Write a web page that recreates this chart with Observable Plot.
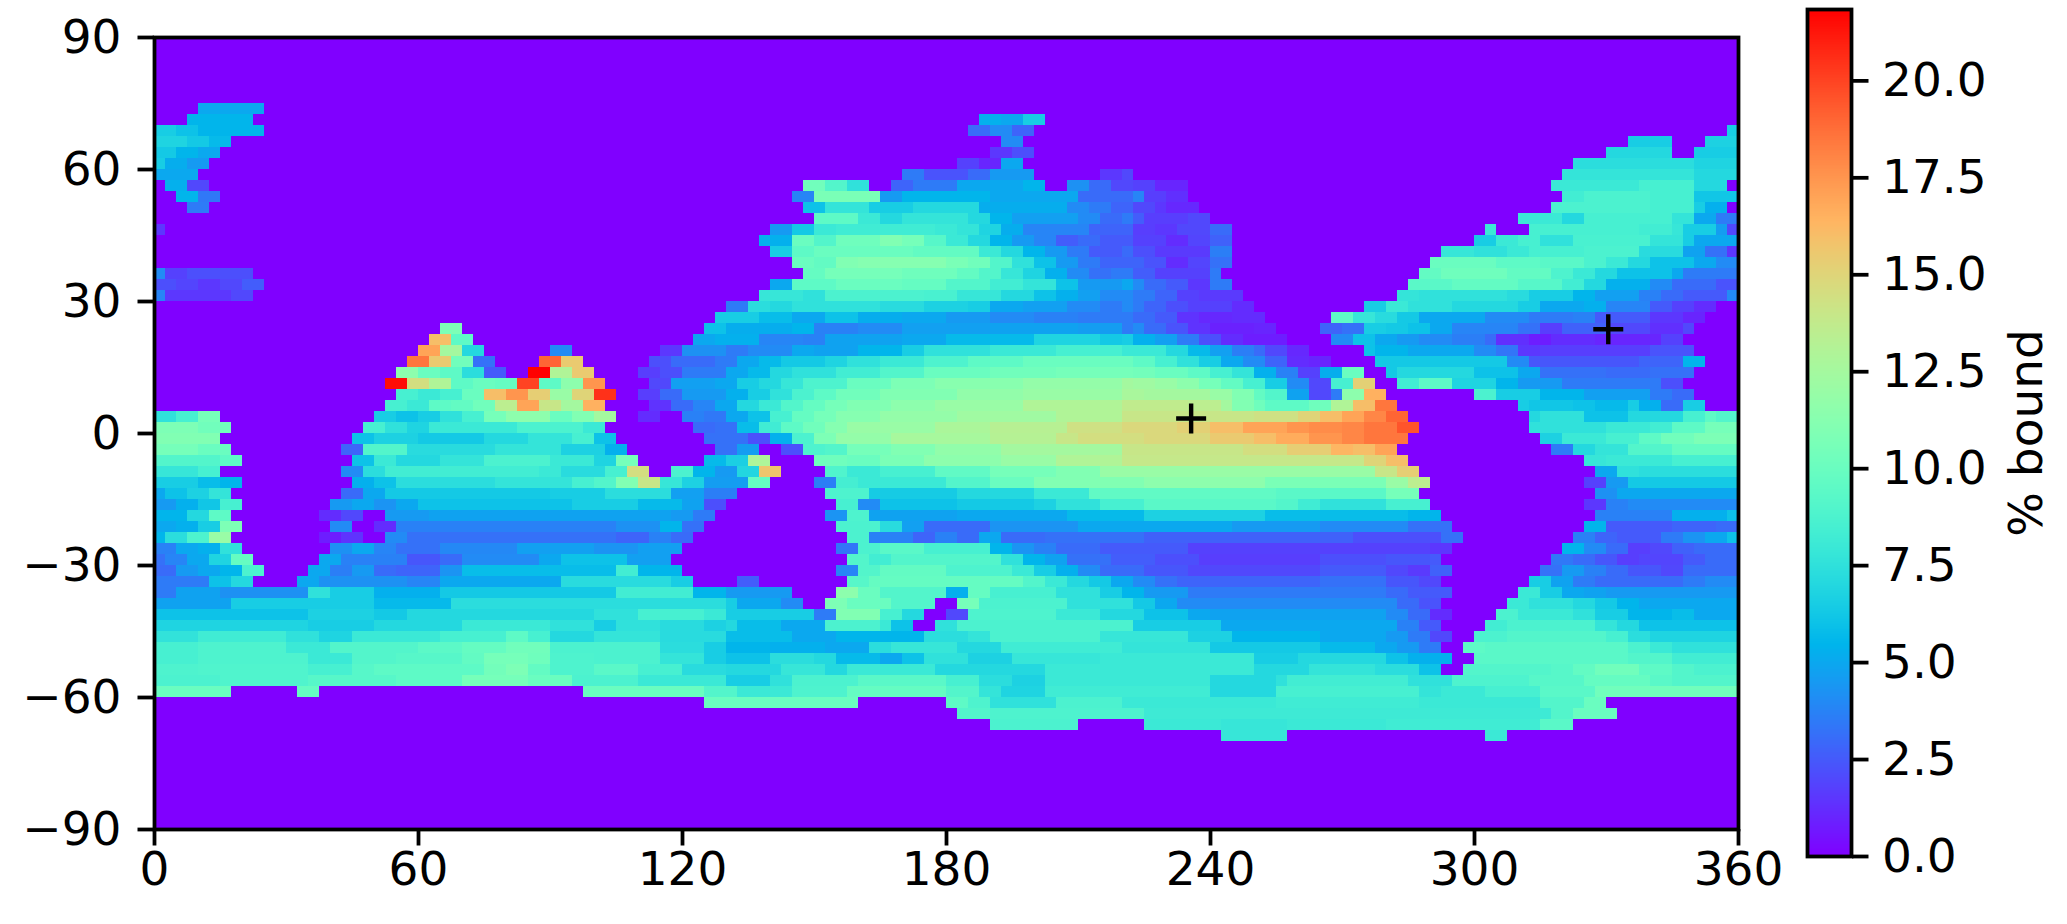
<!DOCTYPE html>
<html><head><meta charset="utf-8">
<script src="https://cdn.jsdelivr.net/npm/d3@7"></script>
<script src="https://cdn.jsdelivr.net/npm/@observablehq/plot@0.6"></script>
<style>
html,body{margin:0;padding:0;background:#fff}
#fig{position:relative;width:2067px;height:924px;overflow:hidden}
#fig svg{position:absolute;left:0;top:0;background:transparent}
</style></head><body><div id="fig"></div>
<script>
// Top latitude of each 2.5 degree band
const rowTops = [75,72.5,70,67.5,65,62.5,60,57.5,55,52.5,50,47.5,45,42.5,40,37.5,35,32.5,30,27.5,25,22.5,20,17.5,15,12.5,10,7.5,5,2.5,0,-2.5,-5,-7.5,-10,-12.5,-15,-17.5,-20,-22.5,-25,-27.5,-30,-32.5,-35,-37.5,-40,-42.5,-45,-47.5,-50,-52.5,-55,-57.5,-60,-62.5,-65,-67.5];
// Each band: longitude where a run starts, % bound of that run
const rowRuns = [
[10,5,25,0],
[7.5,5.5,22.5,0,187.5,5.3,192.5,5,197.5,6.5,202.5,0],
[0,6.5,5,6,10,5.5,25,0,185,3,190,4,195,2.8,200,0,357.5,6.5],
[0,6.8,7.5,6.3,12.5,5.7,17.5,0,192.5,4,197.5,0,335,6.5,345,0,352.5,6.7],
[0,6.3,5,5.5,10,5,15,0,190,1.5,195,2.2,200,0,330,7,345,0,350,6.5],
[0,6.5,2.5,5.2,7.5,4.5,12.5,0,182.5,1.8,187.5,1,192.5,5,197.5,0,322.5,7.3,350,6.8],
[0,5,10,0,170,3.5,175,2.3,185,3,190,4.5,200,0,215,1.5,220,2,222.5,0,320,7.7,350,7],
[2.5,5.3,7.5,2,12.5,0,147.5,10.3,152.5,9,157.5,7.5,162.5,0,167.5,2.8,172.5,3.5,182.5,5,197.5,5.5,202.5,0,207.5,4.2,212.5,3,217.5,2,222.5,1.8,227.5,1,235,0,317.5,8,337.5,8.5,350,7,357.5,0],
[5,5.5,10,3.4,15,0,145,3.8,150,10.7,165,4.5,170,5.5,190,5,210,3,222.5,3.8,225,1.7,230,1.3,235,0,320,8.3,325,8.7,340,8.5,350,6.2],
[7.5,3.5,12.5,0,147.5,6,152.5,7.7,162.5,6.5,172.5,7,187.5,5.2,207.5,4,212.5,3.5,217.5,2.8,222.5,2,227.5,1.5,230,1.1,237.5,0,317.5,8.7,340,8.5,350,6.5,352.5,5.3,357.5,0],
[150,9.5,160,8,165,7,170,7.7,185,7,190,5.5,195,4.7,210,4,215,3,220,3.5,222.5,2.6,225,1.7,235,2,240,0,310,8,320,7,325,8.5,345,7.7,350,5,355,3.5],
[0,1.5,2.5,0,140,4.5,145,6.3,150,8,155,8.2,177.5,8,182.5,7.7,187.5,6.8,192.5,5.2,197.5,3.8,212.5,2.8,222.5,1.7,227.5,1.5,232.5,2,240,3,245,0,302.5,8,305,0,312.5,8.5,337.5,8.3,345,7.8,347.5,6.5,355,4.6,357.5,2],
[137.5,5.3,145,10,150,9,155,10.2,165,11,170,10.5,175,9.2,180,8,185,7,190,5.5,195,4.5,200,3.8,205,2.6,210,3,215,2.5,222.5,1.8,230,1.2,235,1.9,240,2.7,245,0,300,6.5,305,8,310,8.5,315,7.5,322.5,8.6,340,7.7,347.5,6.5,350,5],
[140,6.5,145,9.5,150,10,172.5,9.7,187.5,8,192.5,7,197.5,5.5,202.5,4.5,207.5,3.5,212.5,2.5,220,3,222.5,2.2,227.5,1.6,240,3.6,245,0,292.5,7.8,300,7.5,307.5,8,312.5,8.5,325,8.7,337.5,7.2,347.5,4.8,352.5,3.2,357.5,1.5],
[145,10,150,9.7,155,11,160,11.2,180,10.7,185,10.3,190,9,195,7.5,200,6,205,4.5,210,3.5,215,2.8,225,2.3,230,1.2,235,1.9,240,3.2,245,0,290,10,305,9.5,315,9.3,325,8.7,330,8,335,7,340,6,350,5,355,4],
[0,4,2.5,1.8,7.5,2.2,22.5,0,147.5,9.8,152.5,10.5,170,10.2,182.5,9.7,187.5,9,192.5,7.8,197.5,6.8,202.5,5.3,207.5,4,212.5,3.2,217.5,3.5,222.5,2.6,227.5,1.8,240,3.5,242.5,0,287.5,9.7,292.5,10.2,307.5,9.7,317.5,8.8,322.5,8,327.5,7,332.5,6,345,5,347.5,3.5],
[0,2.2,5,1.9,10,1.5,15,2,20,2.6,25,0,140,5,145,9.5,155,10,170,9.8,180,9,190,8.3,197.5,7.7,205,6,210,4.5,220,5,222.5,4,225,3,230,2.5,235,1.5,240,3.5,245,0,285,9.3,295,9.7,310,9.2,320,8.3,325,7,330,5.3,340,4,345,3,355,2.3],
[0,3.8,2.5,1.5,17.5,2,22.5,0,137.5,7.8,147.5,7.5,152.5,8.7,175,8.6,182.5,7.8,192.5,7,200,6,205,5.3,210,4.7,215,4,222.5,3.5,227.5,2.8,232.5,1.8,237.5,1.6,247.5,0,282.5,7.7,287.5,7.5,307.5,7.2,312.5,6.5,322.5,5.5,327.5,4.7,337.5,3.7,342.5,3,347.5,2.5,357.5,4],
[130,3.5,135,7.3,140,7,145,7.5,165,7.2,175,6.7,185,6.5,190,5,197.5,4.7,207.5,4,215,3.5,220,4,222.5,3.5,225,2.8,230,2.2,235,1.8,245,1.2,250,0,275,6.5,280,8,285,7.5,295,7,310,6.5,315,5,325,5.3,330,3.8,340,2.5,345,1.8,350,1.2,355,0],
[127.5,6.5,137.5,5.8,145,5,152.5,6,160,5.2,170,5,180,4.5,190,4,200,3.7,210,3.5,222.5,3,227.5,2.5,232.5,1.4,237.5,1.1,245,1.2,252.5,0,267.5,9.5,272.5,7.8,277.5,7.2,282.5,6.3,287.5,5,302.5,4,312.5,3.5,322.5,3.7,327.5,2.5,340,1.5,347.5,1,352.5,0],
[65,10.8,70,0,125,6,130,5.2,145,5.5,150,3.7,160,4,170,4.7,190,4.8,210,4.6,220,3.5,222.5,4,225,3,230,2.3,235,1.4,240,0.9,250,1,255,0,265,2.8,270,3.2,275,6.5,280,6.3,285,6,290,5,295,3.8,310,3.2,315,1.7,320,2.7,330,2,340,1.3,347.5,2,350,0],
[62.5,16,67.5,9.5,72.5,0,122.5,5,127.5,5.3,137.5,3.8,147.5,3.7,152.5,4.8,170,5,180,5.7,200,6.8,215,6.3,220,6.5,222.5,5.3,227.5,4.7,232.5,3.5,237.5,2.2,242.5,1.2,247.5,0.8,257.5,0,267.5,4,272.5,6,277.5,5,282.5,4.5,287.5,4,295,3.6,302.5,3,305,1.3,312.5,0.8,317.5,1.2,327.5,1,342.5,1.8,347.5,0],
[60,17,65,12.5,70,7,75,0,90,4,95,0,115,1.5,120,4.2,130,3.5,135,4,145,5,150,4.8,160,5.5,170,6.5,175,7.5,190,8,205,8.5,220,8,230,7,235,5.7,240,4.7,245,3.6,250,3,252.5,2,257.5,1.1,262.5,0,275,6,277.5,5.5,285,5,300,4,305,3.3,310,1.5,315,1.7,340,2.3,350,0],
[57.5,18.5,62.5,15.5,67.5,10.3,72.5,3.2,77.5,0,87.5,19,92.5,15.5,97.5,0,112.5,2.2,117.5,3,127.5,3.5,132.5,5,137.5,5.7,142.5,6.3,152.5,6.8,157.5,7.5,165,8,175,8.8,185,9.5,197.5,10,222.5,9.5,227.5,8.5,232.5,7.5,237.5,6.5,242.5,5,247.5,4,252.5,2.8,257.5,1.2,262.5,1,267.5,0,277.5,6.3,307.5,4,312.5,2.4,337.5,2.8,347.5,5.5,352.5,0],
[55,11.5,60,10,65,9.5,70,7.3,75,2.5,80,0,85,21.8,90,13,95,15.5,100,0,110,1.7,115,2.2,120,3.5,130,5,135,5.7,140,7,145,7.5,155,8.3,165,9,175,10,190,10.3,205,10.5,222.5,10.4,227.5,10,235,9.5,240,8.5,245,7.7,250,5.3,255,3.7,260,1.8,265,5.2,270,10,275,0,280,6.3,282.5,7,300,6,310,5,315,3.2,330,3,340,3.2,350,0],
[52.5,21.5,57.5,14.5,62.5,13,67.5,9.5,72.5,10,77.5,9.8,82.5,20,87.5,9.5,92.5,11.5,97.5,17.5,102.5,0,112.5,2,117.5,4.7,127.5,5,132.5,6.5,137.5,7,142.5,7.8,147.5,8.8,157.5,10,167.5,10.8,177.5,11.3,197.5,11.8,220,12.5,222.5,12.3,227.5,12,232.5,11.5,237.5,10.5,242.5,9.7,247.5,8.5,252.5,6.5,257.5,4,262.5,2,267.5,8.5,272.5,15.2,277.5,0,282.5,8.3,287.5,9.5,295,6.8,305,5.5,310,4.5,320,3.5,342.5,2.2,347.5,0],
[55,8.5,60,8,65,8.5,70,10,75,16,80,17.5,85,15.3,90,12,95,15,100,20.5,105,0,110,1.7,115,3,120,4.5,130,5.3,135,6.5,140,7.5,145,8.7,150,9.5,155,10.3,165,11,182.5,11.7,197.5,12,220,12.7,225,12.5,240,12,245,11,250,9.7,252.5,9,257.5,4.8,262.5,2,267.5,3.5,270,11.5,275,16.5,280,0,300,8.7,305,6.5,315,5.5,325,4.7,340,3.5,345,3,350,0],
[52.5,8.5,57.5,8,62.5,9.5,67.5,9.7,72.5,10.3,77.5,13.5,82.5,17,87.5,14,92.5,12.5,97.5,16.5,102.5,0,112.5,1.4,117.5,3,122.5,3.8,127.5,5,132.5,7,137.5,8,142.5,9,147.5,9.8,152.5,10.5,157.5,11,167.5,11.5,177.5,12,197.5,13,220,13.7,235,13.5,242.5,12.5,245,11,250,10.2,252.5,9.5,262.5,10.2,267.5,13,272.5,16,277.5,18.5,282.5,0,310,6.5,312.5,6.2,322.5,6,327.5,5.7,335,6.5,337.5,5.3,342.5,3,347.5,6.5,352.5,0],
[0,7.5,5,8.5,10,10.5,15,0,50,6.5,55,6,60,6.5,65,7.5,70,8.5,75,10.5,80,11.5,90,10,95,11,100,12.5,105,0,110,1.2,115,0,120,3.7,125,3.4,130,5,135,6,140,8.5,145,9.8,150,10.5,155,11.2,165,11.8,182.5,12.3,205,13,220,14,250,14.3,260,15,265,16,270,17,275,18,280,19,285,0,312.5,7,315,7.5,325,6,335,7,347.5,8.5,352.5,9.5,355,9],
[0,10.8,10,10.3,17.5,0,47.5,8.5,52.5,7.5,57.5,6.8,62.5,8,82.5,8.7,97.5,8,102.5,0,122.5,3,127.5,3.2,132.5,5.8,137.5,8.2,142.5,9.5,147.5,10.3,152.5,11.2,157.5,12,177.5,12.8,190,13.3,207.5,14.3,220,14.8,232.5,15.2,240,16,247.5,17,257.5,17.5,262.5,17.8,270,18,275,18.5,282.5,19.5,287.5,0,312.5,7.5,330,8,340,8.3,345,9.5,352.5,10.5],
[0,11,15,0,45,6,50,6.7,60,6.3,75,7,85,7.7,95,8.5,100,6,105,0,125,3.2,135,2.2,140,5.3,145,8.7,150,10.8,155,11.8,167.5,12.6,190,13.2,205,14,210,14.5,225,14.8,240,15.5,250,16,255,16.7,262.5,17.5,270,18,275,18.5,285,0,315,6.7,320,8,330,8.5,337.5,9.5,342.5,10.3,350,10.8],
[0,10.5,10,10,17.5,0,42.5,2.8,47.5,9,57.5,7.2,77.5,7.7,92.5,6.7,102.5,5.3,107.5,0,127.5,3.2,132.5,4.6,137.5,0,142.5,2.2,147.5,8.8,152.5,9,157.5,10.5,167.5,11,177.5,11.7,192.5,12.5,220,14,247.5,14.5,257.5,15.3,267.5,16.3,272.5,16,277.5,17,282.5,0,317.5,3.5,322.5,7,327.5,7.7,335,9,345,9.8],
[0,9,15,9.5,20,0,45,6,50,8,55,7,65,7.7,75,8.7,90,8,100,6.8,105,10.5,110,0,125,5.7,130,6.6,135,12.9,140,0,150,10.2,157.5,10,165,10.7,175,11.5,192.5,12,205,13,220,13.9,275,15,280,16,285,0,325,7.8,330,8,345,8.5],
[0,7.8,10,8.5,15,0,42.5,4,47.5,7.3,52.5,8.3,87.5,8,92.5,7.2,102.5,8.5,107.5,14.5,112.5,0,117.5,8.7,122.5,5.5,127.5,4.5,132.5,6.9,137.5,15.7,142.5,0,152.5,8.9,157.5,8,165,8.5,177.5,9.6,190,10.5,205,11,215,12,277.5,14,282.5,15.3,287.5,0,327.5,5,332.5,7.5,337.5,7.3],
[0,6.5,10,5.8,15,5.5,20,0,45,5.3,50,6,55,7.3,77.5,7.7,95,8.5,100,9,105,11,110,14,115,7.8,120,6.7,125,4.6,135,9.8,140,0,150,3.6,155,8.4,160,8,180,9,190,10,200,11,225,11.5,252.5,10.7,280,12,285,13.5,290,0,325,1.8,330,4.5,335,6.3],
[0,5,2.5,6,7.5,6.7,12.5,7.7,17.5,0,42.5,3,47.5,5,52.5,6.3,90,6.5,102.5,7.3,117.5,4.7,125,3.6,132.5,0,152.5,8.8,162.5,6.4,182.5,7,200,8,212.5,9.6,255,9.3,280,10.5,287.5,0,327.5,4.2,332.5,5],
[0,4.5,5,5.3,10,6.2,15,8.5,20,0,40,4.5,45,5,50,4.3,55,5,60,6,95,6.5,110,5.7,120,4.8,125,2.2,130,0,155,8.5,160,4,165,6,182.5,6.3,200,6.7,205,7.5,215,8.5,225,9.3,255,9,260,8.2,265,7.5,280,8.5,290,0,325,1.5,330,3.7,335,4],
[0,5.5,7.5,7,12.5,9.5,17.5,0,37.5,1.2,42.5,2,47.5,0,52.5,4.5,62.5,4.8,117.5,4.5,122.5,3.5,127.5,0,152.5,4.3,157.5,8.8,162.5,4.8,182.5,5,207.5,5.7,225,6.7,252.5,5.8,285,5.5,292.5,0,327.5,3.7,345,5.3,357.5,6],
[0,5,5,5.3,10,6.5,15,10.8,20,0,40,4,45,0,50,1.2,55,3.7,105,4.2,115,5.5,120,3.2,125,0,155,8.7,165,7.2,170,4.7,175,3,190,4.3,210,5,245,4.5,265,4,285,3.2,295,0,325,5.5,330,2.5,345,2.8,355,3],
[0,5.5,2.5,7.3,7.5,8.8,12.5,12,17.5,0,37.5,0.8,42.5,1.4,47.5,0,52.5,4,57.5,3.2,105,2.8,112.5,3.7,117.5,3,122.5,0,157.5,8.7,162.5,3.7,172.5,2.8,177.5,3.7,182.5,3,187.5,5,192.5,3,202.5,3.2,225,2.7,272.5,2.2,292.5,3.2,297.5,0,322.5,3.7,327.5,2.8,332.5,2.5,342.5,3.5,347.5,4.3,352.5,5,357.5,6],
[0,3.7,5,5,10,5.3,15,7.5,20,0,40,4.2,45,5,50,3.8,55,3.2,65,3.9,82.5,4.7,100,4.3,110,4.7,120,0,155,3.3,160,8.7,165,9.3,175,8.5,190,5.5,195,4.3,200,3.7,205,3,215,2.5,235,1.8,290,1.5,295,0,320,5.5,325,4,330,3,335,1.7,340,2,345,2.7,350,3],
[0,3.2,2.5,3.8,7.5,5,12.5,6.8,17.5,9.8,22.5,0,37.5,5,42.5,3.7,57.5,2.4,65,3,70,4,87.5,5,92.5,6,107.5,4.7,117.5,0,157.5,9,162.5,8.3,167.5,9,192.5,7.5,197.5,5.5,202.5,4.8,207.5,3.2,217.5,2.6,227.5,2.2,237.5,1.7,265,2.2,280,2.4,290,2.5,292.5,0,317.5,3.4,322.5,3,327.5,2.4,332.5,1.7,337.5,1.9,347.5,2.5,352.5,3],
[0,3,5,4.5,10,5,15,5.5,20,8.7,25,0,35,5,40,3.6,45,4.5,50,3,55,2.8,65,4.3,70,5.8,105,8.3,110,5.5,120,0,155,3.8,160,9,165,9.7,180,8.8,195,8,200,6.5,205,5.3,210,4,215,3,225,2.4,235,2,265,2.5,280,2,285,1.6,290,2.7,295,0,315,3.2,320,4.5,325,3.7,330,3,335,2.4,342.5,2,347.5,3],
[0,3.5,12.5,6,17.5,7,22.5,0,32.5,5,37.5,4.2,57.5,3.8,65,5,92.5,7.2,117.5,6.5,122.5,0,132.5,2.6,137.5,0,157.5,9.2,162.5,9.8,197.5,9,202.5,8,207.5,7,212.5,6.3,217.5,5,222.5,4,227.5,3.2,232.5,2.8,265,3.2,280,2.4,287.5,2,292.5,0,312.5,6.5,317.5,4.8,322.5,3.5,327.5,3,347.5,3.5,352.5,4],
[0,3.5,5,4.8,15,4.2,35,7.5,40,6.5,50,5.3,65,6.3,105,8.3,122.5,5.5,130,4.5,145,0,155,11.5,160,10,165,9,180,5.3,185,9.8,190,8.5,205,7.5,215,6.5,220,5.5,225,4.5,235,3.5,280,3,285,2.5,295,0,310,8,315,6.5,320,5,325,4.8,330,4.5],
[0,4.8,17.5,6.5,50,5.7,67.5,7.3,130,6.5,132.5,5,142.5,4,147.5,0,152.5,10.8,157.5,10,167.5,9,177.5,0,182.5,10.5,187.5,8.7,207.5,7.5,222.5,6.3,227.5,5,232.5,4,282.5,3,287.5,2.3,292.5,0,307.5,8,312.5,7.5,322.5,7,327.5,6.3,332.5,5.5,337.5,5],
[0,6,35,6.7,50,6.3,57.5,7,100,7.5,110,8.5,125,8,130,6.5,150,3.5,155,11,165,8.5,170,7,175,0,180,2,185,8.8,205,8,215,7,225,6,235,5,240,4.8,280,4,285,3,290,1.2,295,0,305,8.7,310,8,322.5,7.5,327.5,6.5,335,5.5,345,5.8,350,5],
[0,6.8,35,6.5,50,7,70,8,90,7.5,100,6.5,105,7.5,115,7.2,125,6.7,130,7,132.5,5.8,142.5,5,152.5,8.7,165,8,167.5,6,172.5,0,177.5,7.5,182.5,8.7,222.5,6.5,242.5,5,282.5,3.7,287.5,2.5,292.5,0,302.5,8.3,307.5,8.7,327.5,7.7,332.5,7,337.5,6],
[0,7.6,10,8.2,30,7.5,37.5,6.8,45,8,65,8.5,80,9.5,85,8.5,90,7,100,7.7,115,7.2,130,5.8,145,5,155,5.5,175,7.3,185,7.7,190,8.7,215,7.8,235,6.7,245,5.5,265,5,280,4.5,285,3.5,290,2,295,0,300,8.7,307.5,9,330,8.5,335,7.3,340,6.8],
[0,8.5,10,8.8,30,8,40,9,60,9.4,70,9.8,80,10.3,90,8.7,115,7.3,125,6.5,130,5.5,140,5.3,152.5,5,162.5,7.3,167.5,7.8,182.5,7,192.5,8.2,220,7.7,240,6.3,265,5.7,277.5,5,282.5,4.5,287.5,3.5,292.5,0,297.5,9.5,302.5,9.3,335,8.7,340,8,345,7.5],
[0,8.5,10,8.8,35,8,45,9,55,9.2,70,9.7,75,10.5,85,10.2,90,8.8,100,8.7,115,7.7,125,6.5,130,6,140,7.3,150,7,155,5.7,165,5,170,6,175,7.5,185,6.7,195,7.8,215,8,250,6.5,260,7,280,6,285,5.3,295,0,300,9.3,335,9,345,8.3],
[0,8.8,10,8.9,35,8.5,45,9.2,50,9.5,75,10.4,80,10.8,85,9.7,90,8.8,100,9.3,110,8.5,120,7.2,130,7,142.5,7.8,152.5,7,157.5,8,177.5,7,187.5,7,202.5,8,250,7,262.5,7.7,277.5,7.3,287.5,6,292.5,0,297.5,9,317.5,9.2,322.5,9.7,327.5,10.3,337.5,9.5,345,9,350,8.7],
[0,8.7,15,8.9,35,9.2,55,9.5,70,10.5,85,10,95,8.7,110,8,130,6.5,140,7.5,145,8.7,160,9.3,180,8.5,187.5,7.3,195,6.7,202.5,8,240,7,255,7.5,257.5,8.3,285,7.5,295,8.8,312.5,9.2,325,9.8,340,9.3,345,9],
[0,10,17.5,0,32.5,9.8,37.5,0,97.5,10,125,9,132.5,8,145,8.8,157.5,9.8,180,9,187.5,7.7,192.5,6.8,202.5,8.2,240,7,255,8.5,287.5,7.7,292.5,8,302.5,8.5,315,9.3,327.5,10.3],
[125,10,160,0,180,9.5,185,8.8,190,7.5,205,8.7,220,8,255,8.2,287.5,8,315,9,325,10,330,0],
[182.5,9,190,8.8,225,8.1,317.5,9,322.5,10,332.5,0],
[190,8.7,210,0,225,8,242.5,7.8,257.5,8,280,8.2,315,9.3,322.5,0],
[242.5,7.8,257.5,0,302.5,8,307.5,0]
];
const markerLon = [235.6,330.4];
const markerLat = [3.4,23.7];
const xTicks = [0,60,120,180,240,300,360];
const yTicks = [-90,-60,-30,0,30,60,90];
const barTicks = [0,2.5,5,7.5,10,12.5,15,17.5,20];
const vmax = 21.84;

// matplotlib "rainbow" colormap
const rainbow = t => {
  const c = v => Math.round(255*Math.max(0,Math.min(1,v)));
  return `rgb(${c(Math.abs(2*t-0.5))},${c(Math.sin(Math.PI*t))},${c(Math.cos(Math.PI*t/2))})`;
};
const colorScale = {type:"linear",domain:[0,vmax],interpolate:rainbow};
const fs = 47;
const font = {fontFamily:"'DejaVu Sans',sans-serif",fontSize:fs+"px",background:"transparent",color:"#000"};
const lw = 3.78, tick = 16.5;

const cells = [{x1:0,x2:360,y1:-90,y2:90,v:0}];
rowTops.forEach((top,r)=>{
  const runs = rowRuns[r];
  for(let i=0;i<runs.length;i+=2){
    const x2 = i+2<runs.length ? runs[i+2] : 360;
    if(runs[i+1]>0) cells.push({x1:runs[i],x2,y1:top-2.5,y2:top,v:runs[i+1]});
  }
});
const markers = markerLon.map((x,i)=>({x,y:markerLat[i]}));
const plusSymbol = {draw(ctx,size){const r=Math.sqrt(size/Math.PI);ctx.moveTo(-r,0);ctx.lineTo(r,0);ctx.moveTo(0,-r);ctx.lineTo(0,r);}};
const minus = d => String(d).replace("-","\u2212");

const main = Plot.plot({
  width:2067,height:924,
  marginLeft:154,marginRight:329,marginTop:37,marginBottom:95,
  style:font,
  x:{domain:[0,360]},y:{domain:[-90,90]},
  color:colorScale,
  marks:[
    Plot.rect(cells,{x1:"x1",x2:"x2",y1:"y1",y2:"y2",fill:"v",shapeRendering:"crispEdges"}),
    Plot.dot(markers,{x:"x",y:"y",r:15,symbol:plusSymbol,stroke:"#000",fill:"none",strokeWidth:4.4}),
    Plot.axisX({ticks:xTicks,tickFormat:minus,tickSize:tick,tickPadding:6,strokeWidth:lw,label:null,fontSize:fs}),
    Plot.axisY({ticks:yTicks,tickFormat:minus,tickSize:tick,tickPadding:16.5,strokeWidth:lw,label:null,fontSize:fs}),
    Plot.frame({stroke:"#000",strokeWidth:lw})
  ]
});

const levels = d3.range(512).map(i=>({y1:i/512*vmax,y2:(i+1)/512*vmax,v:(i+0.5)/512*vmax}));
const bar = Plot.plot({
  width:2067,height:924,
  marginLeft:1807,marginRight:216,marginTop:9,marginBottom:68,
  style:font,
  x:{domain:[0,1],axis:null},y:{domain:[0,vmax]},
  color:colorScale,
  marks:[
    Plot.rect(levels,{x1:0,x2:1,y1:"y1",y2:"y2",fill:"v",shapeRendering:"crispEdges"}),
    Plot.axisY({anchor:"right",ticks:barTicks,tickFormat:d3.format(".1f"),tickSize:tick,tickPadding:14,strokeWidth:lw,fontSize:fs,
      label:"% bound",labelAnchor:"center",labelArrow:"none",labelOffset:190}),
    Plot.frame({stroke:"#000",strokeWidth:lw})
  ]
});
const fig = document.getElementById("fig");
fig.appendChild(main);
fig.appendChild(bar);
</script></body></html>
